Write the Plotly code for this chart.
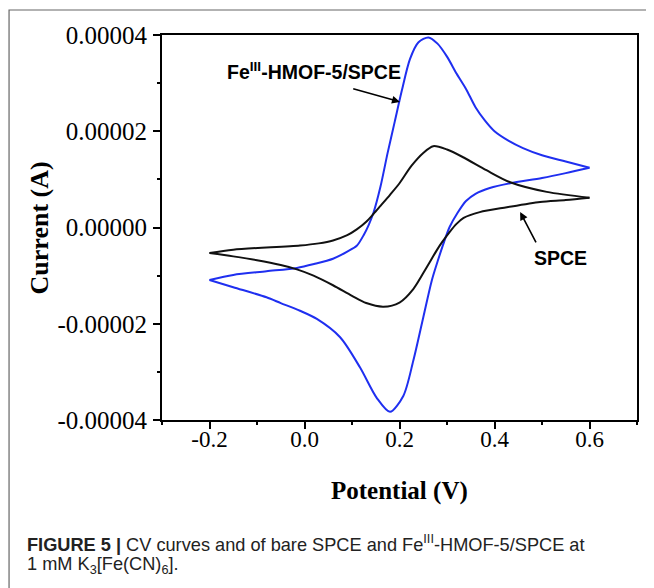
import plotly.graph_objects as go

# Values in units of 1e-5 A
SCALE = 1e-5

blue_fwd_x = [-0.2, -0.15, -0.08, -0.016, 0.02, 0.06, 0.09, 0.11, 0.125, 0.135, 0.145, 0.16, 0.175,
              0.19, 0.205, 0.222, 0.24, 0.261, 0.28, 0.3, 0.32, 0.34, 0.36, 0.38, 0.40, 0.43, 0.46,
              0.5, 0.55, 0.6]
blue_fwd_y = [-1.09, -0.985, -0.91, -0.84, -0.76, -0.65, -0.5, -0.38, -0.15, 0.05, 0.3, 0.85, 1.55,
              2.2, 2.85, 3.5, 3.85, 3.95, 3.82, 3.55, 3.2, 2.88, 2.5, 2.22, 2.0, 1.8, 1.65,
              1.5, 1.37, 1.24]

blue_rev_x = [0.6, 0.55, 0.5, 0.433, 0.39, 0.36, 0.34, 0.322, 0.305, 0.292, 0.282, 0.268, 0.25,
              0.229, 0.208, 0.18, 0.152, 0.117, 0.075, 0.026, -0.0095, -0.05, -0.08, -0.15, -0.2]
blue_rev_y = [1.24, 1.13, 1.03, 0.92, 0.82, 0.7, 0.55, 0.3, 0.0, -0.35, -0.65, -1.1, -1.87,
              -2.77, -3.5, -3.83, -3.54, -2.91, -2.28, -1.90, -1.73, -1.57, -1.45, -1.24, -1.09]

black_fwd_x = [-0.2, -0.15, -0.0095, 0.03, 0.06, 0.09, 0.11, 0.13, 0.145, 0.16, 0.18, 0.2, 0.225,
               0.25, 0.271, 0.3, 0.334, 0.383, 0.433, 0.51, 0.6]
black_fwd_y = [-0.53, -0.46, -0.375, -0.33, -0.27, -0.16, -0.04, 0.12, 0.28, 0.45, 0.68, 0.92, 1.28,
               1.55, 1.69, 1.62, 1.46, 1.19, 0.94, 0.74, 0.62]

black_rev_x = [0.6, 0.55, 0.496, 0.426, 0.369, 0.335, 0.32, 0.305, 0.29, 0.278, 0.257, 0.229, 0.2,
               0.166, 0.13, 0.1, 0.06, 0.019, -0.016, -0.05, -0.1, -0.15, -0.2]
black_rev_y = [0.62, 0.57, 0.53, 0.42, 0.32, 0.2, 0.076, -0.1, -0.3, -0.48, -0.83, -1.28, -1.56,
               -1.645, -1.57, -1.42, -1.2, -1.0, -0.87, -0.78, -0.68, -0.6, -0.53]

x_tickvals = [-0.2, 0.0, 0.2, 0.4, 0.6]
x_ticktext = ["-0.2", "0.0", "0.2", "0.4", "0.6"]
y_tickvals = [4e-5, 2e-5, 0.0, -2e-5, -4e-5]
y_ticktext = ["0.00004", "0.00002", "0.00000", "-0.00002", "-0.00004"]

BLUE = "#1f2ff0"
BLACK = "#111111"

fig = go.Figure()
for xs, ys, col in [(blue_fwd_x, blue_fwd_y, BLUE), (blue_rev_x, blue_rev_y, BLUE),
                    (black_fwd_x, black_fwd_y, BLACK), (black_rev_x, black_rev_y, BLACK)]:
    fig.add_trace(go.Scatter(x=xs, y=[v * SCALE for v in ys], mode="lines",
                             line=dict(color=col, width=2, shape="spline", smoothing=0.8),
                             showlegend=False, hoverinfo="skip"))

serif = "Liberation Serif, Times New Roman, serif"
sans = "Liberation Sans, Arial, sans-serif"

axis_common = dict(showline=True, linecolor="black", linewidth=1.8, mirror=True,
                   ticks="outside", ticklen=7, tickwidth=1.8, tickcolor="black",
                   showgrid=False, zeroline=False,
                   minor=dict(ticks="outside", ticklen=3, tickwidth=1.8, tickcolor="black"))

fig.update_xaxes(range=[-0.3, 0.7], tickvals=x_tickvals, ticktext=x_ticktext,
                 minor_dtick=0.1, minor_tick0=-0.1, ticklabelstandoff=-10,
                 tickfont=dict(family=serif, size=23, color="black"), **axis_common)
fig.update_yaxes(range=[-4e-5, 4e-5], tickvals=y_tickvals, ticktext=y_ticktext,
                 minor_dtick=1e-5, minor_tick0=-3e-5, ticklabelstandoff=1,
                 tickfont=dict(family=serif, size=25, color="black"), **axis_common)

annotations = [
    dict(text="<b>Potential (V)</b>", xref="paper", yref="paper", x=0.5, y=-0.184,
         xanchor="center", yanchor="middle", showarrow=False,
         font=dict(family=serif, size=25, color="black")),
    dict(text="<b>Current (A)</b>", xref="paper", yref="paper", x=-0.257, y=0.5,
         xanchor="center", yanchor="middle", showarrow=False, textangle=-90,
         font=dict(family=serif, size=26, color="black")),
    dict(text="<b>Fe<sup>III</sup>-HMOF-5/SPCE</b>", xref="x", yref="y", x=0.02, y=3.25e-5,
         xanchor="center", yanchor="middle", showarrow=False,
         font=dict(family=sans, size=19.5, color="black")),
    dict(text="", xref="x", yref="y", x=0.201, y=2.61e-5, axref="x", ayref="y",
         ax=0.0994, ay=2.89e-5, showarrow=True, arrowhead=2, arrowsize=1,
         arrowwidth=1.6, arrowcolor="black"),
    dict(text="<b>SPCE</b>", xref="x", yref="y", x=0.538, y=-0.635e-5,
         xanchor="center", yanchor="middle", showarrow=False,
         font=dict(family=sans, size=19.5, color="black")),
    dict(text="", xref="x", yref="y", x=0.454, y=0.32e-5, axref="x", ayref="y",
         ax=0.489, ay=-0.34e-5, showarrow=True, arrowhead=2, arrowsize=1,
         arrowwidth=1.6, arrowcolor="black"),
    dict(text="<b>FIGURE 5 |</b> CV curves and of bare SPCE and Fe<sup>III</sup>-HMOF-5/SPCE at",
         xref="paper", yref="paper", x=-0.288, y=-0.320, xanchor="left", yanchor="middle",
         showarrow=False, font=dict(family=sans, size=18.2, color="#222222")),
    dict(text="1 mM K<sub>3</sub>[Fe(CN)<sub>6</sub>].",
         xref="paper", yref="paper", x=-0.288, y=-0.377, xanchor="left", yanchor="middle",
         showarrow=False, font=dict(family=sans, size=18.2, color="#222222")),
]

# The page body adds an 8 px margin, so the figure is 8 px smaller each way
# and offset so that the plot area lands where the reference has it.
fig.update_layout(
    width=646, height=580,
    margin=dict(l=154, r=17, t=27, b=168),
    paper_bgcolor="white", plot_bgcolor="white",
    annotations=annotations,
    shapes=[dict(type="rect", xref="paper", yref="paper", x0=-0.322, y0=-0.7, x1=1.2, y1=1.065,
                 line=dict(color="#666666", width=1.2), fillcolor="rgba(0,0,0,0)", layer="below")],
)

fig.write_html("out.html")
